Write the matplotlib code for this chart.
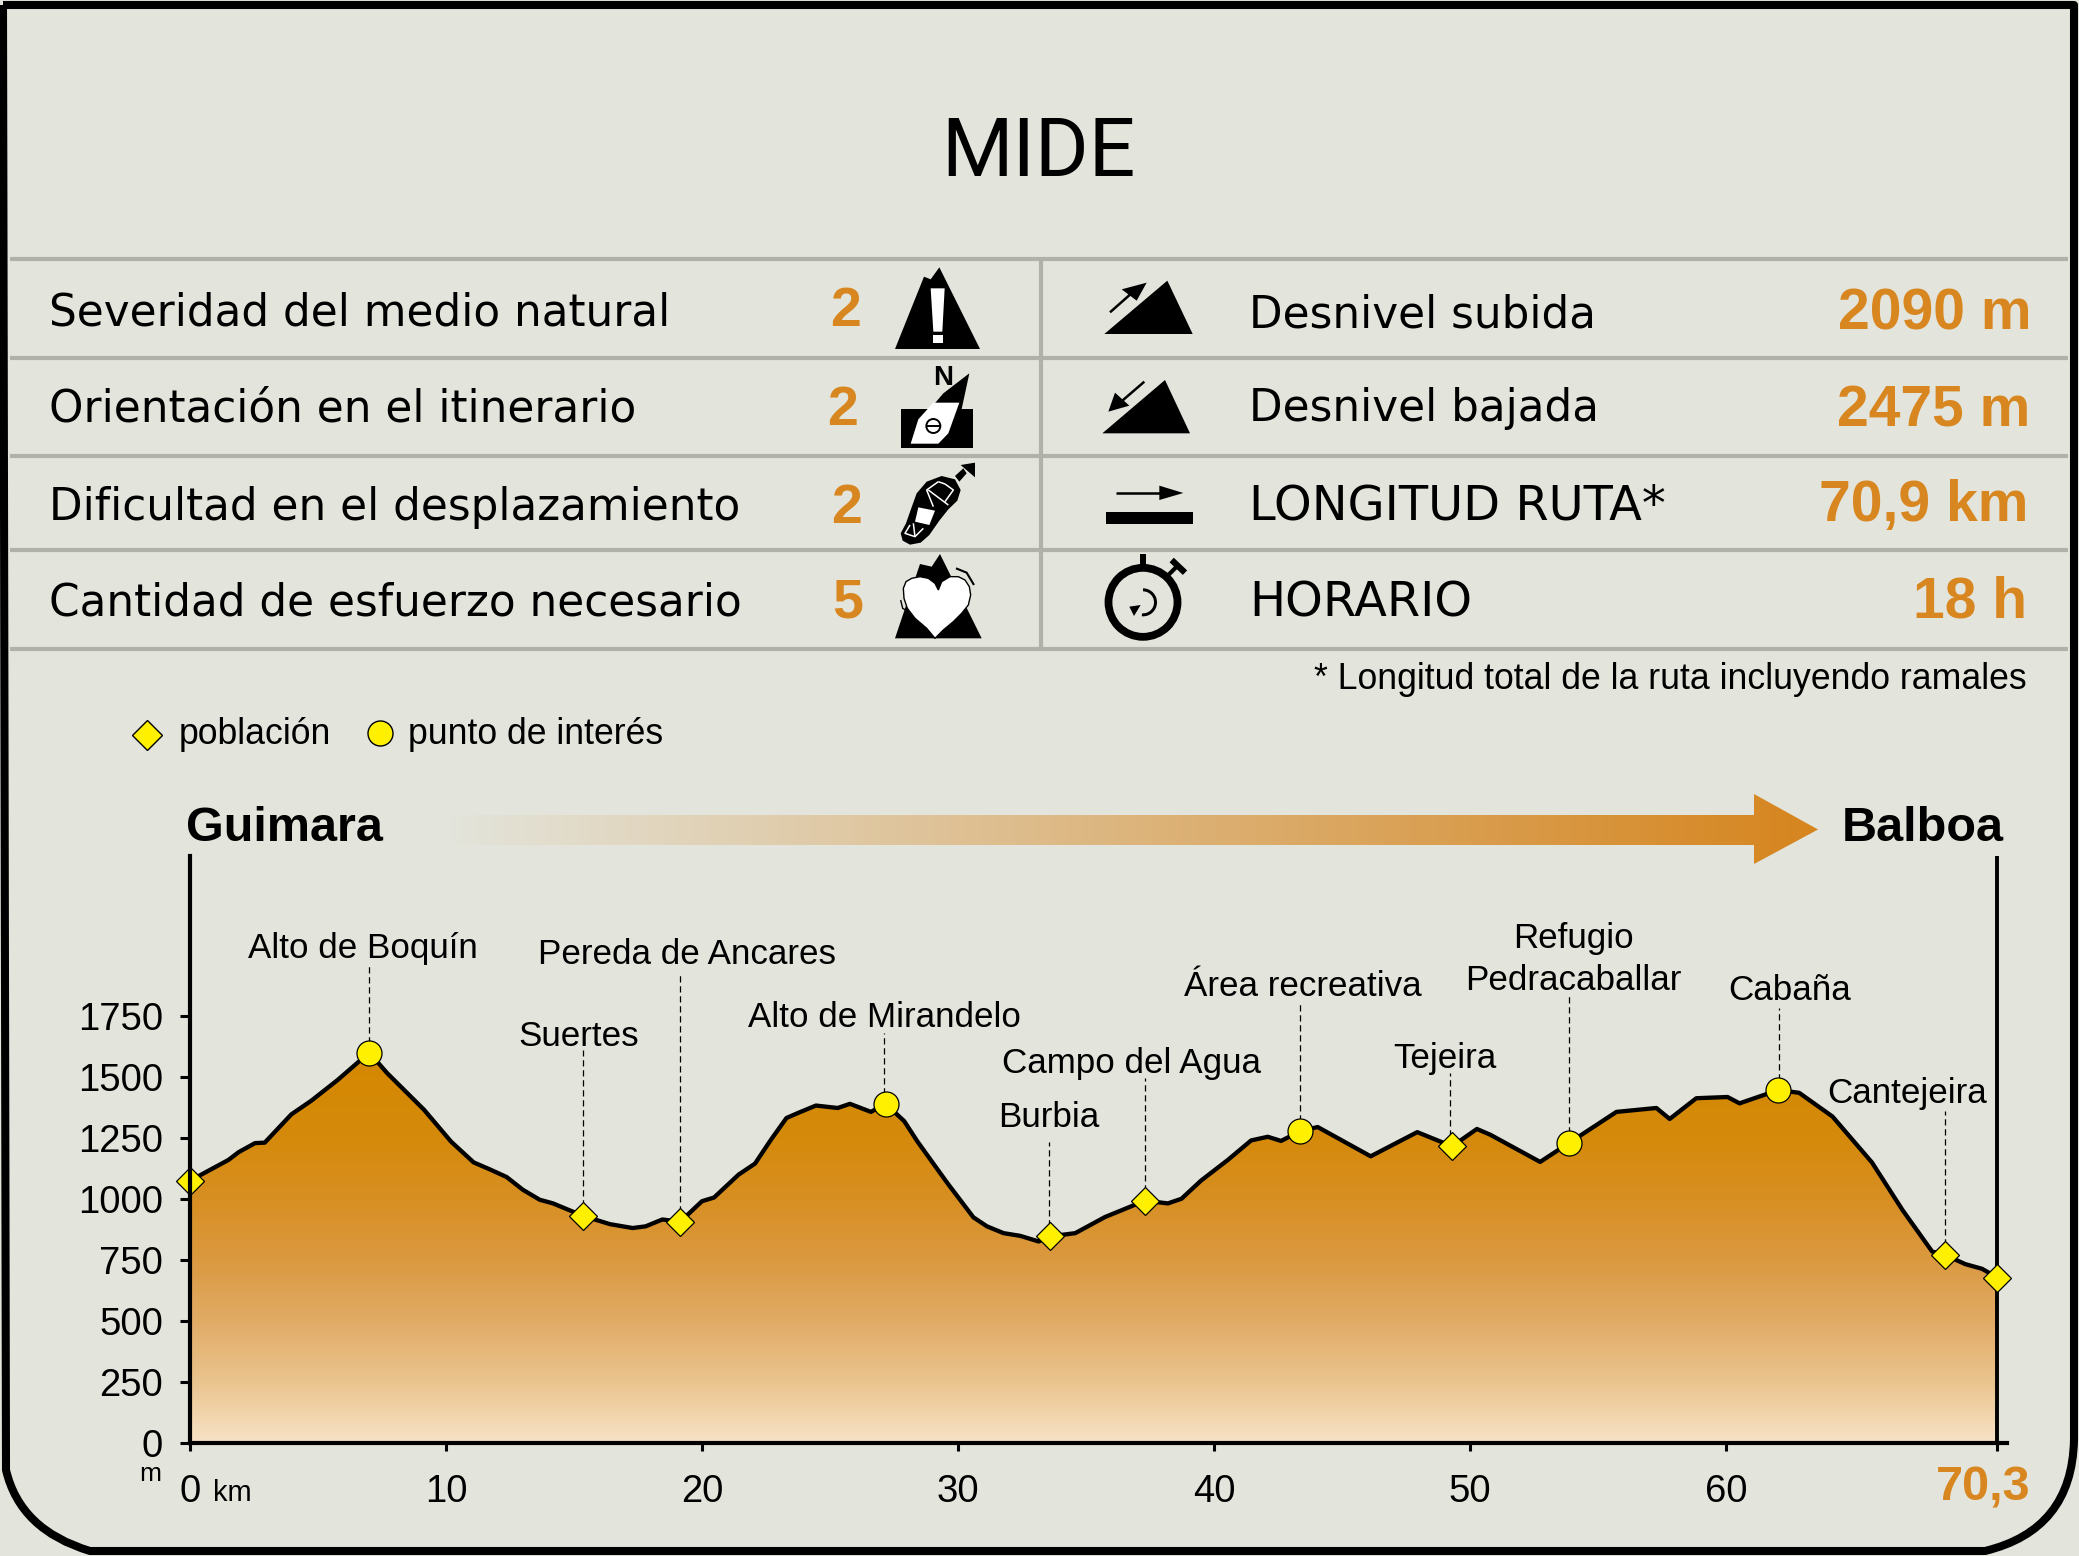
# %% imports
import numpy as np
import matplotlib
matplotlib.use('Agg')
import matplotlib.pyplot as plt
from matplotlib.path import Path
from matplotlib.patches import PathPatch, Polygon, Circle, Wedge
from matplotlib.colors import to_rgb

plt.rcParams['font.family'] = ['Liberation Sans', 'DejaVu Sans']

# %% data
km = [0, 1.5, 1.9, 2.54, 2.92, 3.96, 4.74, 5.77, 7.0, 7.7, 9.14, 10.2, 11.08, 11.7, 12.37,
      13.0, 13.66, 14.18, 15.35, 16.4, 17.29, 17.8, 18.45, 19.15, 20.0, 20.47, 21.43, 22.07,
      22.7, 23.3, 23.76, 24.45, 25.3, 25.78, 26.6, 27.17, 27.9, 28.42, 29.58, 30.6, 31.13,
      31.78, 32.43, 33.15, 33.6, 34.58, 35.74, 37.3, 38.2, 38.73, 39.5, 40.54, 41.45, 42.1,
      42.62, 43.37, 44.05, 46.12, 47.94, 49.3, 50.27, 50.8, 52.74, 53.86, 55.72, 57.28, 57.8,
      58.84, 60.06, 60.53, 62.05, 62.86, 64.16, 65.7, 66.9, 68.05, 68.57, 69.35, 70.0, 70.6]
elev = [1075, 1160, 1192, 1229, 1231, 1347, 1403, 1488, 1600, 1516, 1366, 1235, 1150, 1122, 1090,
        1038, 997, 982, 931, 897, 881, 888, 916, 907, 991, 1006, 1100, 1145,
        1244, 1332, 1353, 1383, 1373, 1390, 1357, 1390, 1319, 1235, 1066, 925, 888,
        860, 849, 826, 847, 860, 926, 993, 982, 1001, 1076, 1160, 1240, 1255,
        1238, 1278, 1295, 1175, 1274, 1216, 1287, 1263, 1152, 1229, 1357, 1373, 1328,
        1413, 1418, 1392, 1447, 1435, 1338, 1150, 954, 785, 770, 733, 714, 678]

pob_km = [0, 15.35, 19.15, 33.6, 37.3, 49.3, 68.57, 70.6]
pob_m = [1075, 931, 907, 847, 993, 1216, 770, 678]
poi_km = [7.0, 27.17, 43.37, 53.86, 62.05]
poi_m = [1600, 1390, 1278, 1229, 1447]

lead_km = [7.0, 15.35, 19.13, 27.12, 33.54, 37.3, 43.37, 49.2, 53.86, 62.08, 68.55]
lead_bottom = [1600, 931, 907, 1390, 847, 993, 1278, 1216, 1229, 1447, 770]
lead_top = [1956, 1610, 1919, 1681, 1235, 1497, 1812, 1516, 1831, 1784, 1362]

# label, x centre px, baseline px
place_names = [('Alto de Boquín', 363, 958), ('Suertes', 579, 1046), ('Pereda de Ancares', 687, 964),
               ('Alto de Mirandelo', 884, 1027), ('Burbia', 1049, 1127), ('Campo del Agua', 1131, 1073),
               ('Área recreativa', 1303, 996), ('Tejeira', 1445, 1068), ('Refugio', 1573, 948),
               ('Pedracaballar', 1573, 990), ('Cabaña', 1790, 1000), ('Cantejeira', 1907, 1103)]

left_rows = ['Severidad del medio natural', 'Orientación en el itinerario',
             'Dificultad en el desplazamiento', 'Cantidad de esfuerzo necesario']
left_scores = ['2', '2', '2', '5']
right_rows = ['Desnivel subida', 'Desnivel bajada', 'LONGITUD RUTA*', 'HORARIO']
right_values = ['2090 m', '2475 m', '70,9 km', '18 h']

y_ticks = [0, 250, 500, 750, 1000, 1250, 1500, 1750]
x_ticks = [0, 10, 20, 30, 40, 50, 60]
x_end = 70.6
total_label = '70,3'

# %% colours
BG = '#E3E4DB'
RULE = '#B0B1A9'
ORANGE = '#D8861F'
YELLOW = '#FFF000'

W, H = 2079, 1556
fig = plt.figure(figsize=(W / 100, H / 100), dpi=100, facecolor=BG)

# overlay in image pixels for the panel furniture
bg = fig.add_axes([0, 0, 1, 1], zorder=0)
bg.set_xlim(0, W)
bg.set_ylim(H, 0)
bg.axis('off')


def put(x, y, s, **kw):
    kw.setdefault('va', 'baseline')
    return bg.text(x, y, s, **kw)


# %% frame
frame = Path([(3, 5), (2074, 5), (2074, 1440), (2072, 1530), (1985, 1551), (90, 1551), (20, 1530),
              (6, 1470), (3, 5)],
             [Path.MOVETO, Path.LINETO, Path.LINETO, Path.CURVE3, Path.CURVE3, Path.LINETO,
              Path.CURVE3, Path.CURVE3, Path.LINETO])
bg.add_patch(PathPatch(frame, fc='none', ec='black', lw=5.8, joinstyle='round'))

# %% title and table
put(1038, 176, 'MIDE', family='Roboto', fontsize=59, ha='center', color='black')

for y in [259, 358, 456, 550, 649]:
    bg.plot([10, 2068], [y, y], color=RULE, lw=3, solid_capstyle='butt')
bg.plot([1041, 1041], [259, 649], color=RULE, lw=3, solid_capstyle='butt')

left_base = [325, 421, 520, 615]
score_x = [846, 843, 847, 848]
score_base = [326, 425, 523, 617]
for s, yb, sc, sx, sb in zip(left_rows, left_base, left_scores, score_x, score_base):
    put(49, yb, s, family='DejaVu Sans', fontsize=31.5, color='black')
    put(sx, sb, sc, fontsize=40, fontweight='bold', color=ORANGE, ha='center')

right_base = [327, 421, 519, 616]
right_size = [31.5, 31.5, 34.5, 34.5]
val_x = [2032, 2030, 2028, 2027]
val_base = [329, 426, 521, 617]
for s, yb, fs, v, vx, vb in zip(right_rows, right_base, right_size, right_values, val_x, val_base):
    put(1249, yb, s, family='DejaVu Sans', fontsize=fs, color='black')
    put(vx, vb, v, fontsize=41, fontweight='bold', color=ORANGE, ha='right')

put(2027, 689, '* Longitud total de la ruta incluyendo ramales', fontsize=25.7, ha='right', color='black')


# %% icons, points in zoomed-crop units
def iz(pts):
    return [(870 + a / 3, 260 + b / 3) for a, b in pts]


def poly(pts, color='black', **kw):
    bg.add_patch(Polygon(iz(pts), closed=True, fc=color, ec='none', **kw))


def seg(pts, color='black', lw=1.5):
    p = iz(pts)
    bg.plot([a for a, b in p], [b for a, b in p], color=color, lw=lw, solid_capstyle='butt')


# warning mountain
poly([(75, 267), (162, 50), (182, 58), (208, 22), (330, 267)])
poly([(182, 85), (224, 85), (217, 215), (190, 215)], 'white')
poly([(190, 225), (220, 225), (220, 248), (190, 248)], 'white')
# compass
poly([(92, 446), (308, 446), (308, 563), (92, 563)])
poly([(298, 340), (275, 447), (180, 447), (220, 400)])
poly([(122, 551), (145, 478), (190, 428), (268, 428), (235, 520), (205, 551)], 'white')
bg.add_patch(Circle((870 + 190 / 3, 260 + 498 / 3), 7, fc='none', ec='black', lw=1.4))
seg([(168, 498), (212, 498)], lw=1.4)
put(870 + 218 / 3, 260 + 375 / 3, 'N', fontsize=20, fontweight='bold', ha='center', color='black')
# boot sole
poly([(92, 820), (108, 790), (122, 750), (140, 700), (170, 665), (215, 648), (255, 658), (272, 690),
      (262, 722), (235, 748), (208, 782), (178, 825), (152, 848), (120, 854), (98, 842)])
poly([(145, 742), (195, 752), (178, 795), (135, 785)], 'white')
seg([(175, 690), (235, 735)], 'white', 1.1)
seg([(205, 665), (170, 690), (190, 740)], 'white', 1.1)
seg([(225, 672), (250, 690), (225, 725)], 'white', 1.1)
seg([(205, 665), (225, 672)], 'white', 1.1)
seg([(120, 795), (105, 820), (135, 830), (160, 805)], 'white', 1.1)
seg([(130, 790), (135, 830)], 'white', 1.1)
poly([(255, 648), (280, 625), (290, 640), (268, 665)])
poly([(272, 615), (315, 608), (315, 652)])
# heart on mountain
poly([(75, 1135), (150, 912), (185, 920), (210, 882), (335, 1135)])
bg.add_patch(Polygon(iz([(195, 1135), (170, 1105), (135, 1075), (112, 1045), (102, 1015), (100, 985),
                         (108, 965), (125, 955), (150, 950), (175, 955), (195, 970), (205, 990),
                         (215, 965), (240, 950), (265, 950), (285, 960), (298, 980), (302, 1005),
                         (295, 1035), (275, 1060), (250, 1085), (220, 1110)]),
                     closed=True, fc='white', ec='black', lw=1))
seg([(258, 925), (290, 938), (312, 975)], lw=1.5)
seg([(92, 1020), (98, 1045), (110, 1052)], lw=1)
# mountain up
poly([(703, 222), (892, 62), (968, 222)])
seg([(720, 157), (790, 95)], lw=1.8)
poly([(755, 88), (830, 68), (800, 122)])
# mountain down
poly([(697, 520), (885, 360), (960, 520)])
seg([(823, 365), (750, 428)], lw=1.8)
poly([(715, 455), (735, 398), (778, 437)])
# length
poly([(708, 757), (968, 757), (968, 792), (708, 792)])
seg([(737, 699), (870, 699)], lw=1.8)
poly([(868, 677), (940, 699), (868, 720)])
# stopwatch
cx, cy = 870 + 819 / 3, 260 + 1027 / 3
bg.add_patch(Circle((cx, cy), 34.5, fc='none', ec='black', lw=5.6))
poly([(810, 882), (828, 882), (828, 915), (810, 915)])
seg([(895, 945), (922, 918)], lw=3)
seg([(905, 900), (945, 938)], lw=4.5)
bg.add_patch(Wedge((cx, cy), 14, -90, 95, width=3, fc='black', ec='none'))
poly([(778, 1040), (812, 1035), (792, 1068)])

# %% legend
bg.plot([147], [735], marker='D', ms=15, mfc=YELLOW, mec='black', mew=1, ls='none')
bg.plot([380], [733], marker='o', ms=18, mfc=YELLOW, mec='black', mew=1, ls='none')
put(179, 744, 'población', fontsize=25.7, color='black')
put(408, 744, 'punto de interés', fontsize=25.7, color='black')

# %% direction arrow
put(186, 841, 'Guimara', fontsize=35, fontweight='bold', color='black')
put(1842, 841, 'Balboa', fontsize=35, fontweight='bold', color='black')
c0, c1 = np.array(to_rgb(BG)), np.array(to_rgb('#D6851E'))
t = np.linspace(0, 1, 256)[None, :, None]
grad = c0[None, None, :] * (1 - t) + c1[None, None, :] * t
im = bg.imshow(grad, extent=[445, 1818, 864, 794], aspect='auto', zorder=1)
arrow = Polygon([(445, 815), (1754, 815), (1754, 794), (1818, 829.5), (1754, 864), (1754, 845), (445, 845)],
                closed=True, fc='none', ec='none', transform=bg.transData)
bg.add_patch(arrow)
im.set_clip_path(arrow)
bg.set_xlim(0, W)
bg.set_ylim(H, 0)

# %% profile
left, right, top, bottom = 190, 2007, 856, 1443
ax = fig.add_axes([left / W, 1 - bottom / H, (right - left) / W, (bottom - top) / H], zorder=2)
ax.patch.set_alpha(0)
xmax = (right - left) / 25.6
ymax = (bottom - top) / 0.244

stops_m = [0, 250, 500, 750, 1000, 1250, 1600]
stops_c = np.array([to_rgb(c) for c in ['#F7E2C6', '#EAC48E', '#E1AB66', '#DB9940', '#D88F22', '#D58A0B', '#D48800']])
levels = np.linspace(0, 1600, 400)
shade = np.stack([np.interp(levels, stops_m, stops_c[:, i]) for i in range(3)], axis=1)[:, None, :]
fill = ax.imshow(shade, origin='lower', extent=[0, x_end, 0, 1600], aspect='auto', zorder=1)
outline = Polygon(list(zip(km, elev)) + [(x_end, 0), (0, 0)], closed=True, fc='none', ec='none',
                  transform=ax.transData)
ax.add_patch(outline)
fill.set_clip_path(outline)

ax.plot(km, elev, color='black', lw=3.1, zorder=3, solid_joinstyle='round')
ax.vlines(lead_km, lead_bottom, lead_top, color='black', lw=0.9, linestyles=(0, (5, 3)), zorder=2)
ax.vlines([x_end], 0, ymax, color='black', lw=2.8, zorder=3)
ax.plot(pob_km, pob_m, ls='none', marker='D', ms=14, mfc=YELLOW, mec='black', mew=0.9, zorder=5, clip_on=False)
ax.plot(poi_km, poi_m, ls='none', marker='o', ms=18, mfc=YELLOW, mec='black', mew=0.9, zorder=5, clip_on=False)

ax.set_xlim(0, xmax)
ax.set_ylim(0, ymax)
for side in ['top', 'right']:
    ax.spines[side].set_visible(False)
for side in ['left', 'bottom']:
    ax.spines[side].set_linewidth(3)
    ax.spines[side].set_zorder(6)
ax.set_yticks(y_ticks)
ax.set_xticks(x_ticks + [x_end])
ax.set_xticklabels([str(v) for v in x_ticks] + [''])
ax.tick_params(axis='y', length=7.5, width=2.2, pad=12, labelsize=27.5)
ax.tick_params(axis='x', length=6, width=2.2, pad=16, labelsize=27.5)

for name, xc, yb in place_names:
    put(xc, yb, name, fontsize=25.2, ha='center', color='black')

put(213, 1501, 'km', fontsize=21, color='black')
put(139, 1481, 'm', fontsize=19, color='black')
put(2031, 1501, total_label, fontsize=35, fontweight='bold', color=ORANGE, ha='right')

fig.savefig('out.png', dpi=100, facecolor=BG)
